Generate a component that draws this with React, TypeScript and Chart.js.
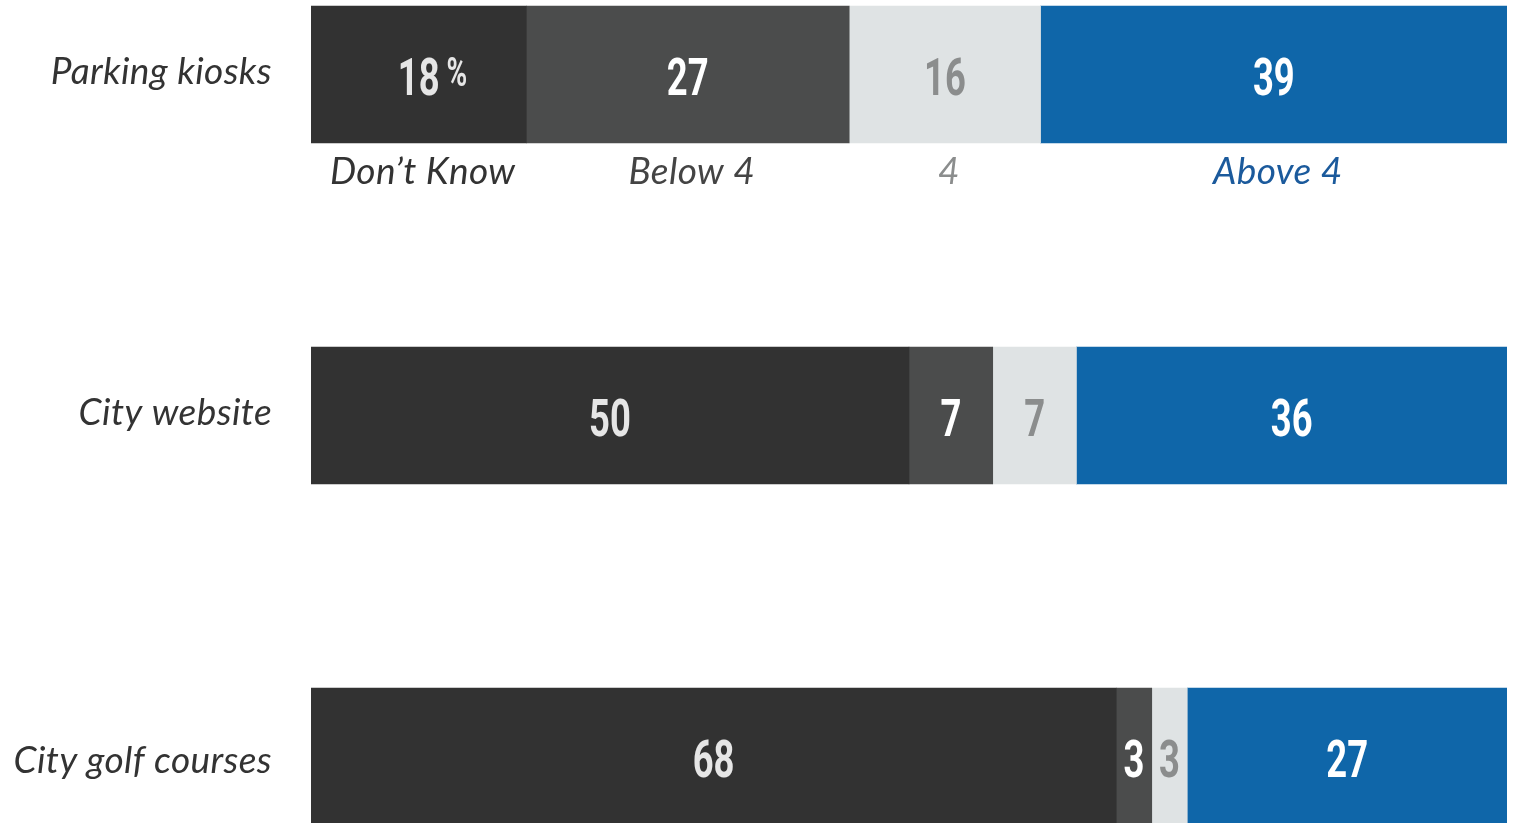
import React, { useEffect, useRef } from "react";
import { Chart, registerables } from "chart.js";

Chart.register(...registerables);

const categories = ["Parking kiosks", "City website", "City golf courses"];
const seriesNames = ["Don\u2019t Know", "Below 4", "4", "Above 4"];
const dontKnow = [18, 50, 68];
const below4 = [27, 7, 3];
const four = [16, 7, 3];
const above4 = [39, 36, 27];

const seriesColors = ["#323232", "#4b4c4c", "#dfe3e4", "#0f66a9"];
const valueColors = ["#e6e6e6", "#ffffff", "#8b8d8d", "#ffffff"];
const legendColors = ["#333333", "#444444", "#8b8d8d", "#1b5a9c"];

export default function App() {
  const ref = useRef<HTMLCanvasElement | null>(null);

  useEffect(() => {
    if (!ref.current) return;
    const series = [dontKnow, below4, four, above4];
    const totals = categories.map((_, i) => series.reduce((s, arr) => s + arr[i], 0));

    const labelPlugin = {
      id: "customLabels",
      afterDatasetsDraw(chart: any) {
        const ctx = chart.ctx;
        const yScale = chart.scales.y;
        ctx.save();
        // category labels
        ctx.font = "italic 400 37px Lato, 'Noto Sans', sans-serif";
        try { (ctx as any).letterSpacing = "0.4px"; } catch (e) {}
        ctx.fillStyle = "#333333";
        ctx.textAlign = "right";
        ctx.textBaseline = "middle";
        categories.forEach((c, i) => {
          const y = yScale.getPixelForValue(i);
          ctx.fillText(c, 272, y + (i === 2 ? 5 : -2));
        });
        // legend labels under first bar
        ctx.textAlign = "center";
        chart.data.datasets.forEach((ds: any, di: number) => {
          const el = chart.getDatasetMeta(di).data[0];
          const cx = (el.x + el.base) / 2;
          const y = el.y + el.height / 2 + 29;
          ctx.fillStyle = legendColors[di];
          ctx.fillText(seriesNames[di], cx + 4, y);
        });
        try { (ctx as any).letterSpacing = "0px"; } catch (e) {}
        // value labels
        chart.data.datasets.forEach((ds: any, di: number) => {
          const meta = chart.getDatasetMeta(di);
          meta.data.forEach((el: any, i: number) => {
            const cx = (el.x + el.base) / 2;
            const cy = el.y;
            const txt = String(series[di][i]);
            ctx.save();
            ctx.translate(cx, cy + 7);
            ctx.scale(0.7, 1);
            ctx.font = "bold 52px Roboto, 'DejaVu Sans', sans-serif";
            ctx.fillStyle = valueColors[di];
            ctx.textAlign = "center";
            ctx.textBaseline = "middle";
            ctx.fillText(txt, 0, 0);
            if (di === 0 && i === 0) {
              const w = ctx.measureText(txt).width;
              ctx.font = "bold 40px Roboto, 'DejaVu Sans', sans-serif";
              ctx.textAlign = "left";
              ctx.textBaseline = "alphabetic";
              ctx.fillText("%", w / 2 + 10, 4);
            }
            ctx.restore();
          });
        });
        ctx.restore();
      },
    };

    const chart = new Chart(ref.current, {
      type: "bar",
      data: {
        labels: categories,
        datasets: series.map((arr, di) => ({
          label: seriesNames[di],
          data: arr.map((v, i) => (v / totals[i]) * 100),
          backgroundColor: seriesColors[di],
          borderWidth: 0,
          barThickness: 137,
        })),
      },
      options: {
        indexAxis: "y",
        animation: false,
        responsive: false,
        maintainAspectRatio: false,
        layout: { padding: { left: 311, right: 7, top: 0, bottom: 0 } },
        plugins: { legend: { display: false }, tooltip: { enabled: false } },
        scales: {
          x: { stacked: true, min: 0, max: 100, display: false, grid: { display: false } },
          y: { stacked: true, display: false, grid: { display: false } },
        },
      },
      plugins: [labelPlugin],
    } as any);
    return () => chart.destroy();
  }, []);

  return (
    <div style={{ position: "fixed", left: 0, top: 0, width: 1514, height: 823, overflow: "hidden", background: "#fff" }}>
      <div style={{ position: "absolute", left: 0, top: -96, width: 1514, height: 1023 }}>
        <canvas ref={ref} width={1514} height={1023} style={{ display: "block" }} />
      </div>
    </div>
  );
}
